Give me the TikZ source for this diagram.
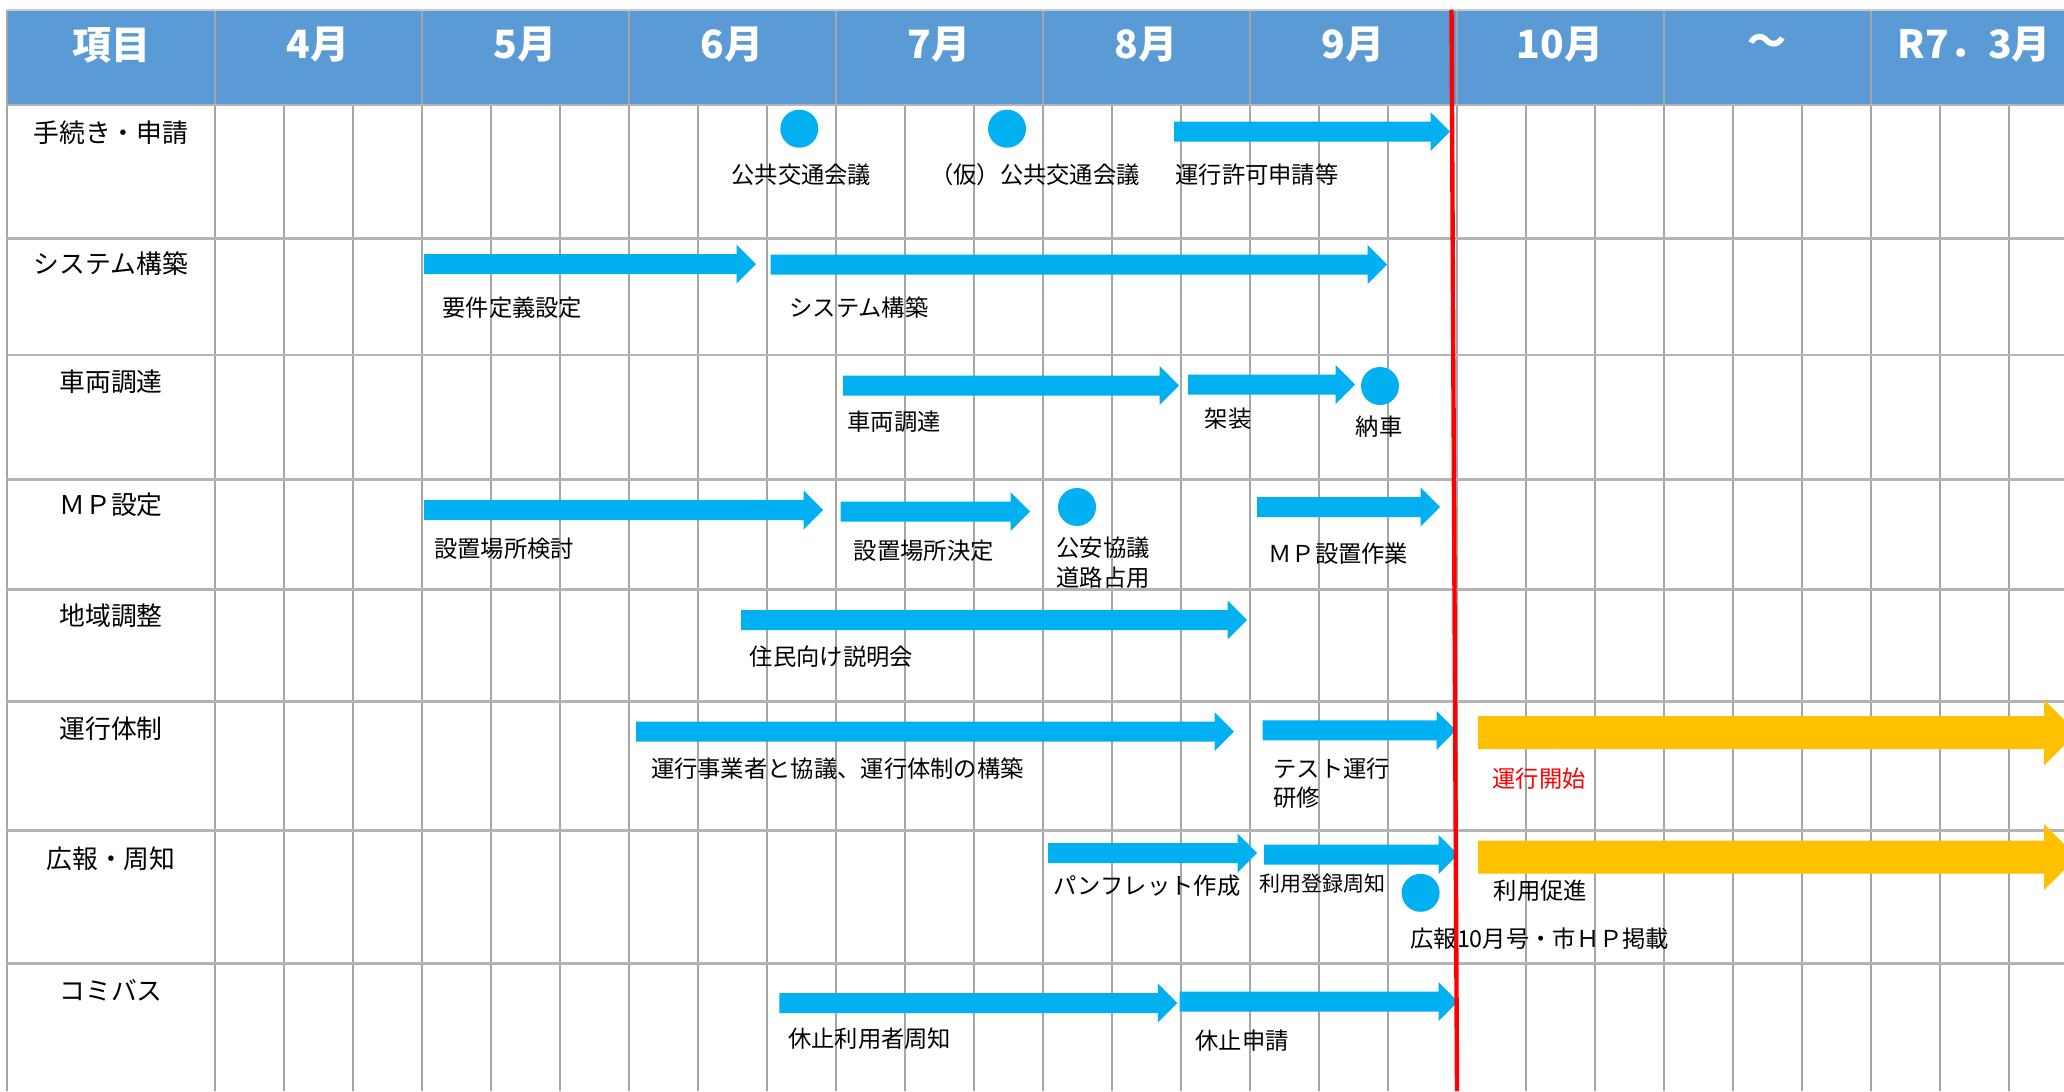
\documentclass[tikz,border=0pt]{standalone}
\usepackage{fontspec}
\setmainfont{Noto Sans CJK JP}
\definecolor{headblue}{HTML}{5B9BD5}
\definecolor{barblue}{HTML}{00B0F0}
\definecolor{barorange}{HTML}{FFC000}
\definecolor{gridgray}{HTML}{A6A6A6}
\definecolor{rowgray}{HTML}{B4B4B4}
\begin{document}
\begin{tikzpicture}[x=0.5pt,y=-0.5pt,
    head node/.style={text=white,font=\fontsize{19.5}{22}\selectfont\bfseries,inner sep=0pt},
    row node/.style={font=\fontsize{12.9}{15}\selectfont,inner sep=0pt},
    task node/.style={font=\fontsize{11.65}{15}\selectfont,inner sep=0pt,anchor=west},
    milestone/.style={circle,fill=barblue,minimum size=19pt,inner sep=0pt}]
  \useasboundingbox (0,0) rectangle (2064,1091);
  \clip (0,0) rectangle (2064,1091);
  % header band
  \fill[headblue] (7,10) rectangle (2064,105);
  % grid
  \foreach \k in {0,...,27}
    \draw[gridgray,line width=1pt] ({214.7+69*\k},105) -- ({214.7+69*\k},1091);
  \foreach \k in {0,...,9}
    \draw[gridgray,line width=1pt] ({214.7+207*\k},10) -- ({214.7+207*\k},105);
  \draw[gridgray,line width=1pt] (7,10) -- (7,1091);
  \draw[rowgray!70,line width=1pt] (7,10) -- (2064,10);
  \foreach \y in {105,238.3,355,479.3,589.3,701.7,830.7,963.3}
    \draw[rowgray,line width=1.3pt] (7,\y) -- (2064,\y);
  % header labels
  \node[head node] (h0) at (111,45) {項目};
  \foreach \m [count=\i from 0] in {4月,5月,6月,7月,8月,9月,10月,～,R7．3月}
    \node[head node] (h\i) at ({318.2+207*\i},45) {\m};
  % row labels
  \node[row node] (r1) at (111,132.5) {手続き・申請};
  \node[row node] (r2) at (111,264) {システム構築};
  \node[row node] (r3) at (111,382) {車両調達};
  \node[row node] (r4) at (111,505) {ＭＰ設定};
  \node[row node] (r5) at (111,616) {地域調整};
  \node[row node] (r6) at (111,729) {運行体制};
  \node[row node] (r7) at (111,859) {広報・周知};
  \node[row node] (r8) at (111,990) {コミバス};
  % blue bars: start/tip/centre
  \foreach \xs/\xt/\yc in {1174/1450/131.7, 424/756/264.2, 770.5/1387/264.5,
      843/1179/385.5, 1188/1355/384.5, 424/823/510, 840.6/1030/511.7,
      1257/1440/507, 741/1247/620, 636/1234/731.7, 1262.6/1456/730.3,
      1048/1257/853, 1264/1458/854.5, 779.4/1177.4/1003, 1179.5/1458/1001.7}
    \fill[barblue] (\xs,\yc-10) -- (\xt-19.5,\yc-10) -- (\xt-19.5,\yc-19.5) -- (\xt,\yc)
      -- (\xt-19.5,\yc+19.5) -- (\xt-19.5,\yc+10) -- (\xs,\yc+10) -- cycle;
  % orange bars after start
  \foreach \yc in {732.7,857}
    \fill[barorange] (1478,\yc-16.5) -- (2044,\yc-16.5) -- (2044,\yc-33) -- (2077,\yc)
      -- (2044,\yc+33) -- (2044,\yc+16.5) -- (1478,\yc+16.5) -- cycle;
  % milestones
  \node[milestone] (m1) at (799.3,128.7) {};
  \node[milestone] (m2) at (1007,128.7) {};
  \node[milestone] (m3) at (1380,386) {};
  \node[milestone] (m4) at (1077,507) {};
  \node[milestone] (m5) at (1420.6,892.8) {};
  % task labels
  \node[task node,anchor=center] (t1) at (801.3,175) {公共交通会議};
  \node[task node,anchor=center] (t2) at (1035,175) {（仮）公共交通会議};
  \node[task node] (t3) at (1175,175) {運行許可申請等};
  \node[task node] (t4) at (442,307.5) {要件定義設定};
  \node[task node] (t5) at (789,307.5) {システム構築};
  \node[task node] (t6) at (847,421.7) {車両調達};
  \node[task node,anchor=center] (t7) at (1228,418.7) {架装};
  \node[task node,anchor=center] (t8) at (1379,427) {納車};
  \node[task node] (t9) at (433.7,549) {設置場所検討};
  \node[task node] (t10) at (853.4,551) {設置場所決定};
  \node[task node,align=left] (t11) at (1056,562.5) {公安協議\\道路占用};
  \node[task node] (t12) at (1268,553.3) {ＭＰ設置作業};
  \node[task node] (t13) at (749.4,656.7) {住民向け説明会};
  \node[task node] (t14) at (650.6,769) {運行事業者と協議、運行体制の構築};
  \node[task node,align=left,font=\fontsize{11.65}{14.25}\selectfont] (t15) at (1273,783.2) {テスト運行\\研修};
  \node[task node,text=red] (t16) at (1492,779) {運行開始};
  \node[task node] (t17) at (1053,886) {パンフレット作成};
  \node[task node,font=\fontsize{10.5}{12}\selectfont] (t18) at (1259,883.7) {利用登録周知};
  \node[task node] (t19) at (1410,939) {広報10月号・市ＨＰ掲載};
  \node[task node] (t20) at (1493.5,890.5) {利用促進};
  \node[task node] (t21) at (787.7,1039) {休止利用者周知};
  \node[task node] (t22) at (1195,1041) {休止申請};
  % start line
  \draw[red,line width=2.2pt] (1451.5,10) -- (1457,1091);
\end{tikzpicture}
\end{document}
